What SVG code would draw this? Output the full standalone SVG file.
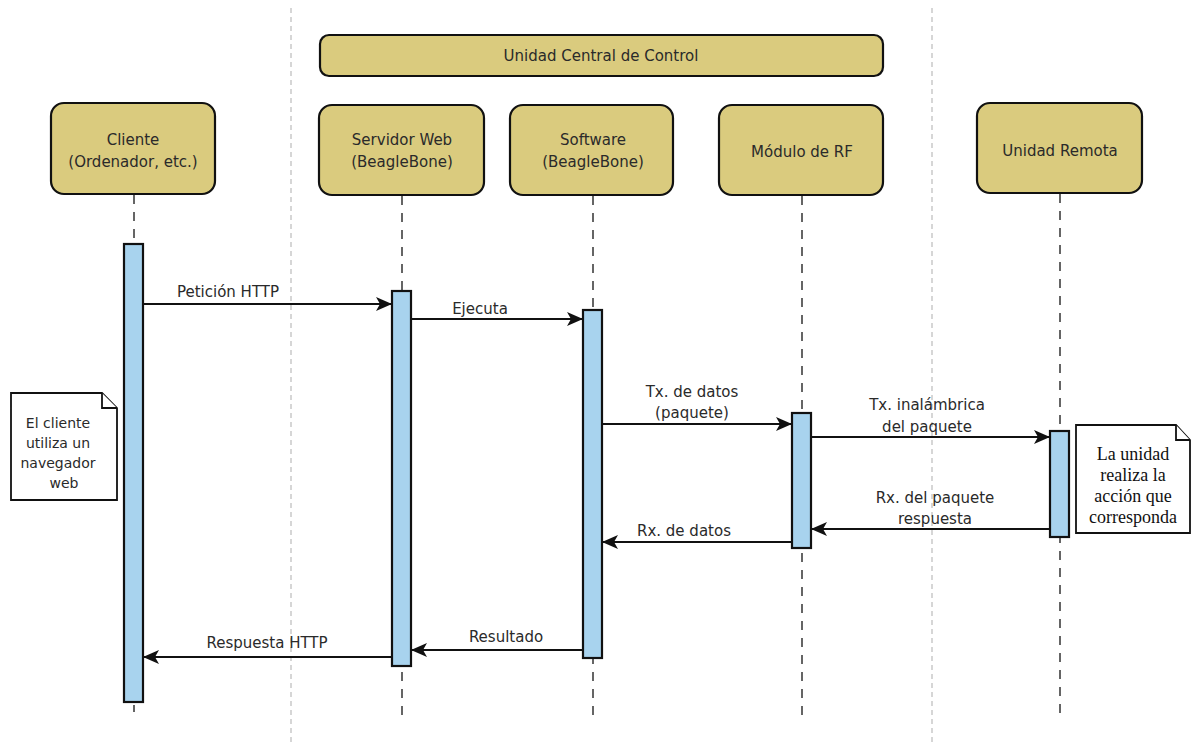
<svg xmlns="http://www.w3.org/2000/svg" width="1192" height="745" viewBox="0 0 1192 745">
<style>
.box{fill:#DACB7E;stroke:#111;stroke-width:2.2}
.act{fill:#A8D3EE;stroke:#111;stroke-width:2.2}
.life{stroke:#333;stroke-width:1.5;stroke-dasharray:9 8;fill:none}
.sep{stroke:#BBB;stroke-width:1.2;stroke-dasharray:5 4;fill:none}
.msg{stroke:#111;stroke-width:2;fill:none}
.t{font-family:"DejaVu Sans",Verdana,sans-serif;font-size:15px;fill:#2a2a2a;text-anchor:middle}
.n{font-family:"DejaVu Sans",Verdana,sans-serif;font-size:14px;fill:#2a2a2a;text-anchor:middle}
.s{font-family:"Liberation Serif","Times New Roman",serif;font-size:18px;fill:#111;text-anchor:middle}
.note{fill:#fff;stroke:#111;stroke-width:1.8}
</style>
<defs>
<marker id="ah" viewBox="0 0 16 14" refX="15" refY="7" markerWidth="16" markerHeight="14" markerUnits="userSpaceOnUse" orient="auto">
<path d="M0,0 L16,7 L0,14 L4,7 Z" fill="#111"/>
</marker>
</defs>
<g id="separators">
<line class="sep" x1="291" y1="8" x2="291" y2="745"/>
<line class="sep" x1="932" y1="8" x2="932" y2="745"/>
</g>
<g id="lifelines">
<line class="life" x1="134" y1="195" x2="134" y2="712"/>
<line class="life" x1="402" y1="196" x2="402" y2="715"/>
<line class="life" x1="593" y1="196" x2="593" y2="715"/>
<line class="life" x1="802" y1="196" x2="802" y2="715"/>
<line class="life" x1="1060" y1="194" x2="1060" y2="718"/>
</g>
<g id="unidad-central">
<rect class="box" x="320" y="35" width="563" height="41" rx="9"/>
<text class="t" x="601" y="61">Unidad Central de Control</text>
</g>
<g id="cliente">
<rect class="box" x="51" y="103" width="164" height="91" rx="13"/>
<text class="t" x="133" y="145">Cliente</text>
<text class="t" x="133" y="167">(Ordenador, etc.)</text>
</g>
<g id="servidor">
<rect class="box" x="319" y="105" width="165" height="90" rx="13"/>
<text class="t" x="402" y="145">Servidor Web</text>
<text class="t" x="402" y="167">(BeagleBone)</text>
</g>
<g id="software">
<rect class="box" x="510" y="105" width="163" height="90" rx="13"/>
<text class="t" x="593" y="145">Software</text>
<text class="t" x="593" y="167">(BeagleBone)</text>
</g>
<g id="modulo">
<rect class="box" x="719" y="105" width="164" height="90" rx="13"/>
<text class="t" x="802" y="157">Módulo de RF</text>
</g>
<g id="remota">
<rect class="box" x="977" y="103" width="165" height="90" rx="13"/>
<text class="t" x="1060" y="156">Unidad Remota</text>
</g>
<g id="activations">
<rect class="act" x="124" y="244" width="19" height="458"/>
<rect class="act" x="392" y="291" width="19" height="375"/>
<rect class="act" x="583" y="310" width="19" height="348"/>
<rect class="act" x="792" y="413" width="19" height="135"/>
<rect class="act" x="1050" y="431" width="19" height="106"/>
</g>
<g id="connectors">
<line class="msg" x1="144" y1="304" x2="391" y2="304" marker-end="url(#ah)"/>
<line class="msg" x1="412" y1="319" x2="582" y2="319" marker-end="url(#ah)"/>
<line class="msg" x1="603" y1="424" x2="791" y2="424" marker-end="url(#ah)"/>
<line class="msg" x1="812" y1="437" x2="1049" y2="437" marker-end="url(#ah)"/>
<line class="msg" x1="1049" y1="529" x2="812" y2="529" marker-end="url(#ah)"/>
<line class="msg" x1="791" y1="542" x2="603" y2="542" marker-end="url(#ah)"/>
<line class="msg" x1="582" y1="650" x2="412" y2="650" marker-end="url(#ah)"/>
<line class="msg" x1="391" y1="657" x2="144" y2="657" marker-end="url(#ah)"/>
</g>
<g id="labels">
<text class="t" x="228" y="297">Petición HTTP</text>
<text class="t" x="480" y="314">Ejecuta</text>
<text class="t" x="692" y="397">Tx. de datos</text>
<text class="t" x="692" y="418">(paquete)</text>
<text class="t" x="927" y="410">Tx. inalámbrica</text>
<text class="t" x="927" y="432">del paquete</text>
<text class="t" x="935" y="503">Rx. del paquete</text>
<text class="t" x="935" y="524">respuesta</text>
<text class="t" x="684" y="536">Rx. de datos</text>
<text class="t" x="506" y="642">Resultado</text>
<text class="t" x="267" y="648">Respuesta HTTP</text>
</g>
<g id="note-cliente">
<path class="note" d="M11,393 L102,393 L117,408 L117,500 L11,500 Z"/>
<path class="note" d="M102,393 L102,408 L117,408" fill="none"/>
<text class="n" x="58" y="428">El cliente</text>
<text class="n" x="58" y="448">utiliza un</text>
<text class="n" x="58" y="468">navegador</text>
<text class="n" x="64" y="488">web</text>
</g>
<g id="note-remota">
<path class="note" d="M1076,425 L1176,425 L1190,440 L1190,533 L1076,533 Z"/>
<path class="note" d="M1176,425 L1176,440 L1190,440" fill="none"/>
<text class="s" x="1133" y="460">La unidad</text>
<text class="s" x="1133" y="481">realiza la</text>
<text class="s" x="1133" y="502">acción que</text>
<text class="s" x="1133" y="523">corresponda</text>
</g>
</svg>
